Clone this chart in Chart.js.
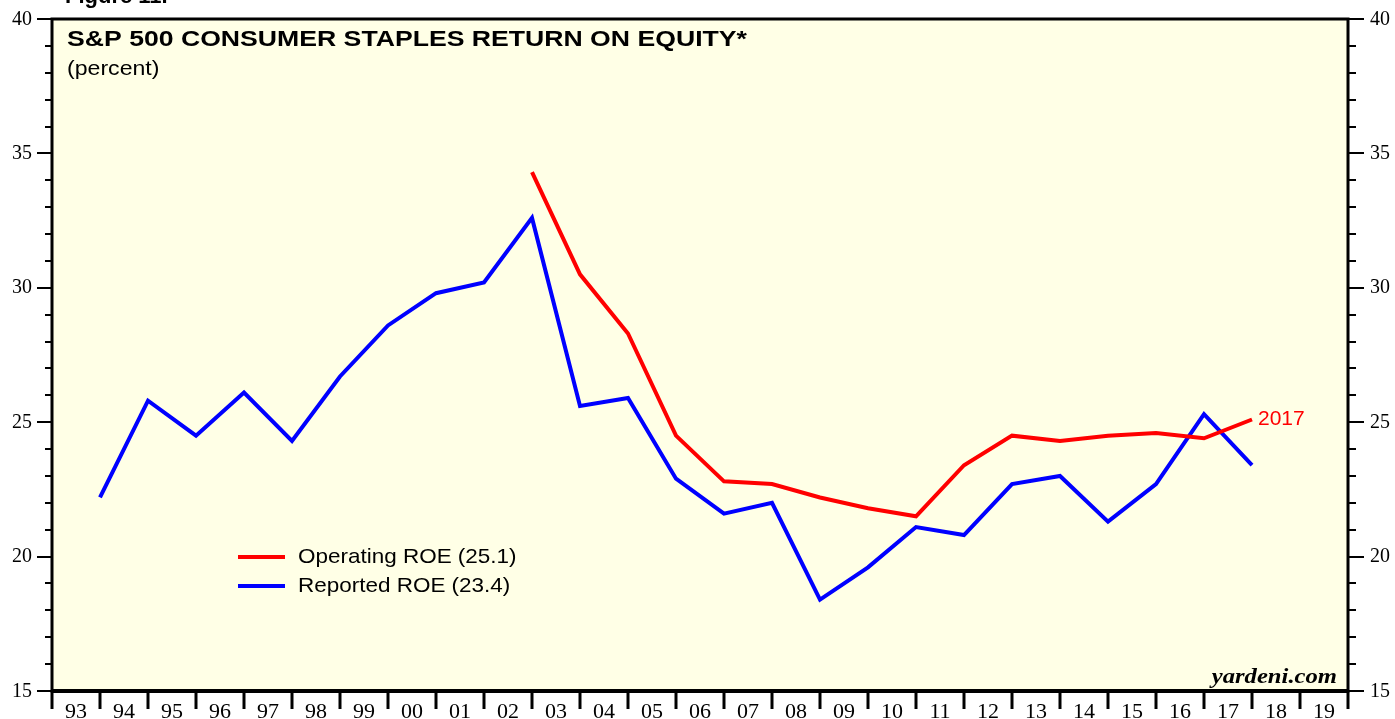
<!DOCTYPE html>
<html>
<head>
<meta charset="utf-8">
<script src="https://cdn.jsdelivr.net/npm/chart.js@4"></script>
<style>
  html, body { margin: 0; padding: 0; background: #ffffff; }
  #grafico { display: block; }
</style>
</head>
<body>
<canvas id="grafico" width="1395" height="719"></canvas>
<script>
// dados (valor anual, plotado no fim do ano)
const anos = [1993, 1994, 1995, 1996, 1997, 1998, 1999, 2000, 2001, 2002, 2003, 2004, 2005,
              2006, 2007, 2008, 2009, 2010, 2011, 2012, 2013, 2014, 2015, 2016, 2017];
const roeOperacional = [null, null, null, null, null, null, null, null, null,
                        34.3, 30.5, 28.3, 24.5, 22.8, 22.7, 22.2, 21.8, 21.5,
                        23.4, 24.5, 24.3, 24.5, 24.6, 24.4, 25.1];
const roeReportado = [22.2, 25.8, 24.5, 26.1, 24.3, 26.7, 28.6, 29.8, 30.2, 32.6, 25.6, 25.9, 22.9,
                      21.6, 22.0, 18.4, 19.6, 21.1, 20.8, 22.7, 23.0, 21.3, 22.7, 25.3, 23.4];
const rotulosAnos = ['93', '94', '95', '96', '97', '98', '99', '00', '01', '02', '03', '04', '05', '06',
                     '07', '08', '09', '10', '11', '12', '13', '14', '15', '16', '17', '18', '19'];
const ticksY = [15, 20, 25, 30, 35, 40];

const SANS = '"Liberation Sans", Arial, Helvetica, sans-serif';
const SERIF = '"Liberation Serif", "Times New Roman", serif';

// texto com esticamento horizontal opcional (a imagem original e mais larga)
function texto(ctx, txt, x, y, font, cor, align, sx) {
    ctx.save();
    ctx.font = font;
    ctx.fillStyle = cor;
    ctx.textBaseline = 'middle';
    const w = ctx.measureText(txt).width * sx;
    let x0 = x;
    if (align === 'right') x0 = x - w;
    if (align === 'center') x0 = x - w / 2;
    ctx.translate(x0, y);
    ctx.scale(sx, 1);
    ctx.textAlign = 'left';
    ctx.fillText(txt, 0, 0);
    ctx.restore();
}

const fundoPlugin = {
    id: 'fundo',
    beforeDatasetsDraw(chart) {
        const {ctx, chartArea: a} = chart;
        ctx.save();
        ctx.fillStyle = '#ffffe6';
        ctx.fillRect(a.left, a.top, a.right - a.left, a.bottom - a.top);
        ctx.restore();
    }
};

const moldura = {
    id: 'moldura',
    afterDraw(chart) {
        const {ctx, chartArea: a} = chart;
        const sx = chart.scales.x, sy = chart.scales.y;
        ctx.save();

        // "Figure 11." cortado no topo
        ctx.font = 'bold 22px ' + SANS;
        ctx.fillStyle = '#000';
        ctx.textBaseline = 'alphabetic';
        ctx.fillText('Figure 11.', 65, 3);

        // ticks eixo y (esq e dir)
        ctx.strokeStyle = '#000';
        ctx.lineWidth = 2;
        for (let v = 15; v <= 40; v++) {
            const y = Math.round(sy.getPixelForValue(v));
            const maior = v % 5 === 0;
            ctx.beginPath();
            ctx.moveTo(a.left - (maior ? 15 : 7), y);
            ctx.lineTo(a.left, y);
            ctx.moveTo(a.right, y);
            ctx.lineTo(a.right + (maior ? 16 : 8), y);
            ctx.stroke();
        }
        ticksY.forEach(v => {
            const y = sy.getPixelForValue(v);
            texto(ctx, String(v), 32, y, '21px ' + SERIF, '#000', 'right', 0.95);
            texto(ctx, String(v), 1370, y, '21px ' + SERIF, '#000', 'left', 0.95);
        });

        // ticks eixo x nas divisas dos anos
        ctx.lineWidth = 3;
        for (let i = 0; i <= rotulosAnos.length; i++) {
            const x = Math.round(sx.getPixelForValue(1993 + i));
            ctx.beginPath();
            ctx.moveTo(x, a.bottom);
            ctx.lineTo(x, a.bottom + 18);
            ctx.stroke();
        }
        rotulosAnos.forEach((r, i) => {
            const x = sx.getPixelForValue(1993.5 + i);
            texto(ctx, r, x, 712, '22px ' + SERIF, '#000', 'center', 1.0);
        });

        // borda
        ctx.lineWidth = 3;
        ctx.strokeRect(a.left, a.top, a.right - a.left, a.bottom - a.top);
        ctx.lineWidth = 4;
        ctx.beginPath();
        ctx.moveTo(a.left - 1, a.bottom);
        ctx.lineTo(a.right + 1, a.bottom);
        ctx.stroke();

        // titulos
        texto(ctx, 'S&P 500 CONSUMER STAPLES RETURN ON EQUITY*', 67, 40, 'bold 22px ' + SANS, '#000', 'left', 1.21);
        texto(ctx, '(percent)', 67, 69, '21px ' + SANS, '#000', 'left', 1.1);

        // legenda
        chart.data.datasets.forEach((ds, i) => {
            const y = 557 + i * 29;
            ctx.strokeStyle = ds.borderColor;
            ctx.lineWidth = 4;
            ctx.beginPath();
            ctx.moveTo(238, y);
            ctx.lineTo(285, y);
            ctx.stroke();
            texto(ctx, ds.label, 298, y, '21px ' + SANS, '#000', 'left', 1.07);
        });

        // rotulo do ultimo ponto
        const ult = anos[anos.length - 1];
        const px = sx.getPixelForValue(ult + 1);
        const py = sy.getPixelForValue(roeOperacional[roeOperacional.length - 1]);
        texto(ctx, String(ult), px + 6, py, '21px ' + SANS, '#ff0000', 'left', 1.0);

        texto(ctx, 'yardeni.com', 1337, 677, 'italic bold 22px ' + SERIF, '#000', 'right', 1.12);
        ctx.restore();
    }
};

function montarGrafico() {
    const graf = document.getElementById('grafico').getContext('2d');
    const pontos = vals => anos.map((a, i) => ({x: a + 1, y: vals[i]}));

    new Chart(graf, {
        type: 'line',
        data: {
            datasets: [
                {
                    label: 'Operating ROE (25.1)',
                    data: pontos(roeOperacional),
                    borderColor: '#ff0000',
                    borderWidth: 4,
                    pointRadius: 0,
                    tension: 0,
                    spanGaps: false
                },
                {
                    label: 'Reported ROE (23.4)',
                    data: pontos(roeReportado),
                    borderColor: '#0000ff',
                    borderWidth: 4,
                    pointRadius: 0,
                    tension: 0
                }
            ]
        },
        options: {
            responsive: false,
            animation: false,
            layout: {padding: {left: 52, right: 47, top: 19, bottom: 28}},
            scales: {
                x: {type: 'linear', min: 1993, max: 2020, display: false},
                y: {min: 15, max: 40, display: false}
            },
            plugins: {
                legend: {display: false},
                tooltip: {enabled: false}
            }
        },
        plugins: [fundoPlugin, moldura]
    });
}

montarGrafico();
</script>
</body>
</html>
